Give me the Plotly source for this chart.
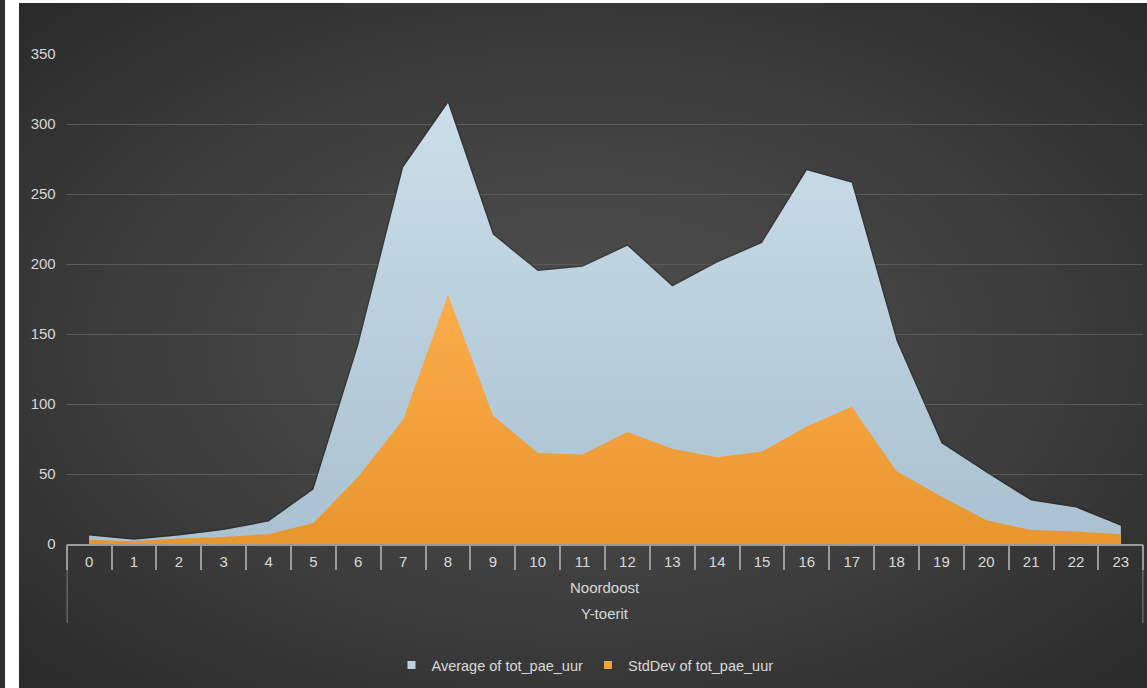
import base64
import struct
import zlib

import plotly.graph_objects as go

# ---------------- data ----------------
hours = list(range(24))
hour_labels = [str(h) for h in hours]
avg_values = [6, 3, 6, 10, 16, 39, 142, 269, 315, 221, 195, 198, 213, 184,
              201, 215, 267, 258, 145, 72, 51, 31, 26, 13]
std_values = [3, 2, 4, 5, 7, 15, 48, 89, 178, 92, 65, 64, 80, 68,
              62, 66, 84, 98, 52, 34, 17, 10, 9, 7]
series_names = ["Average of tot_pae_uur", "StdDev of tot_pae_uur"]
series_colors = ["#bed3e0", "#f5a23f"]
level2_label = "Noordoost"
level3_label = "Y-toerit"
y_ticks = [0, 50, 100, 150, 200, 250, 300, 350]

W, H = 1147, 688


# ---------------- background gradient image ----------------
def radial_png(w, h, c_in, c_out):
    rows = []
    cx, cy = (w - 1) / 2.0, (h - 1) / 2.0
    for j in range(h):
        row = bytearray([0])
        for i in range(w):
            dx = (i - cx) / (w / 2.0)
            dy = (j - cy) / (h / 2.0)
            d = min(1.0, ((dx * dx + dy * dy) ** 0.5) / 1.414)
            t = d ** 1.3
            v = [int(round(c_in[k] + (c_out[k] - c_in[k]) * t)) for k in range(3)]
            row.extend(v)
        rows.append(bytes(row))
    raw = b"".join(rows)

    def chunk(tag, data):
        c = struct.pack(">I", len(data)) + tag + data
        return c + struct.pack(">I", zlib.crc32(tag + data) & 0xFFFFFFFF)

    png = b"\x89PNG\r\n\x1a\n"
    png += chunk(b"IHDR", struct.pack(">IIBBBBB", w, h, 8, 2, 0, 0, 0))
    png += chunk(b"IDAT", zlib.compress(raw, 9))
    png += chunk(b"IEND", b"")
    return "data:image/png;base64," + base64.b64encode(png).decode()


bg_src = radial_png(282, 171, (78, 78, 78), (42, 42, 42))

# ---------------- geometry (px -> paper) ----------------
plot_left, plot_right = 66.7, 1143.3
plot_bottom, plot_top = 544, 54
x_dom = [plot_left / W, plot_right / W]
y_dom = [(H - plot_bottom) / H, (H - plot_top) / H]
outer_bottom_paper = (H - 623) / H

fig = go.Figure()

# subtle shadow for average area
fig.add_trace(go.Scatter(
    x=hours, y=avg_values, mode="lines",
    line=dict(color="rgba(15,15,15,0.25)", width=3),
    hoverinfo="skip", showlegend=False,
))
fig.add_trace(go.Scatter(
    x=hours, y=avg_values, name=series_names[0], mode="lines",
    line=dict(width=0, color=series_colors[0]), fill="tozeroy",
    fillgradient=dict(type="vertical", start=0, stop=max(avg_values),
                      colorscale=[[0, "#a9c1d0"], [1, "#cbdeea"]]),
    showlegend=False, legendgroup="avg",
))
fig.add_trace(go.Scatter(
    x=hours, y=std_values, name=series_names[1], mode="lines",
    line=dict(width=0, color=series_colors[1]), fill="tozeroy",
    fillgradient=dict(type="vertical", start=0, stop=max(std_values),
                      colorscale=[[0, "#e8962e"], [1, "#fcac4b"]]),
    showlegend=False, legendgroup="std",
))
# legend entries with square symbols
for name, col, grp in zip(series_names, series_colors, ["avg", "std"]):
    fig.add_trace(go.Scatter(
        x=[None], y=[None], mode="markers", name=name, legendgroup=grp,
        marker=dict(symbol="square", size=8, color=col),
    ))

font_col = "#d9d9d9"
fnt = "Liberation Sans, Arial, sans-serif"

fig.update_layout(
    width=W, height=H,
    margin=dict(l=0, r=0, t=0, b=0),
    paper_bgcolor="#ffffff",
    plot_bgcolor="rgba(0,0,0,0)",
    font=dict(family=fnt, size=15, color=font_col),
    showlegend=True,
    legend=dict(orientation="h", x=585 / W, xanchor="center",
                y=(H - 665) / H, yanchor="middle",
                font=dict(size=14.5, color=font_col),
                bgcolor="rgba(0,0,0,0)", itemwidth=30,
                tracegroupgap=0),
    xaxis=dict(domain=x_dom, range=[-0.5, 23.5], type="linear",
               tickvals=hours, ticktext=hour_labels, ticks="",
               showgrid=False, zeroline=False, showline=True,
               linecolor="#9a9a9a", linewidth=1.5,
               tickfont=dict(size=15, color=font_col), automargin=False,
               ticklabelstandoff=3),
    xaxis2=dict(domain=x_dom, range=[-0.5, 23.5], overlaying="x",
                anchor="y", side="bottom",
                tickvals=[h - 0.5 for h in hours] + [23.5],
                ticks="outside", ticklen=25, tickwidth=1.5,
                tickcolor="#9a9a9a", showticklabels=False,
                showgrid=False, zeroline=False, showline=False,
                automargin=False),
    yaxis=dict(domain=y_dom, range=[0, 350], tickvals=y_ticks,
               showgrid=True, gridcolor="#5a5a5a", gridwidth=1,
               zeroline=False, showline=False, ticks="",
               tickfont=dict(size=15, color=font_col), automargin=False,
               ticklabelstandoff=10),
    images=[dict(source=bg_src, xref="paper", yref="paper",
                 x=19 / W, y=(H - 3) / H, sizex=(W - 19) / W,
                 sizey=(H - 3) / H, xanchor="left", yanchor="top",
                 sizing="stretch", layer="below")],
    shapes=[
        dict(type="rect", xref="paper", yref="paper", x0=0, x1=5 / W,
             y0=0, y1=1, fillcolor="#2f2f2f", line=dict(width=0),
             layer="below"),
        dict(type="line", xref="x", yref="paper", x0=-0.5, x1=-0.5,
             y0=outer_bottom_paper, y1=y_dom[0],
             line=dict(color="#9a9a9a", width=1.5)),
        dict(type="line", xref="x", yref="paper", x0=23.5, x1=23.5,
             y0=outer_bottom_paper, y1=y_dom[0],
             line=dict(color="#9a9a9a", width=1.5)),
    ],
    annotations=[
        dict(text=level2_label, xref="paper", yref="paper",
             x=605 / W, y=(H - 587) / H, showarrow=False,
             xanchor="center", yanchor="middle",
             font=dict(size=15, color=font_col)),
        dict(text=level3_label, xref="paper", yref="paper",
             x=605 / W, y=(H - 613) / H, showarrow=False,
             xanchor="center", yanchor="middle",
             font=dict(size=15, color=font_col)),
    ],
)

# invisible trace to attach xaxis2
fig.add_trace(go.Scatter(x=[-0.5], y=[0], xaxis="x2", yaxis="y",
                         mode="markers", marker=dict(opacity=0),
                         showlegend=False, hoverinfo="skip"))

fig.write_html("out.html")
